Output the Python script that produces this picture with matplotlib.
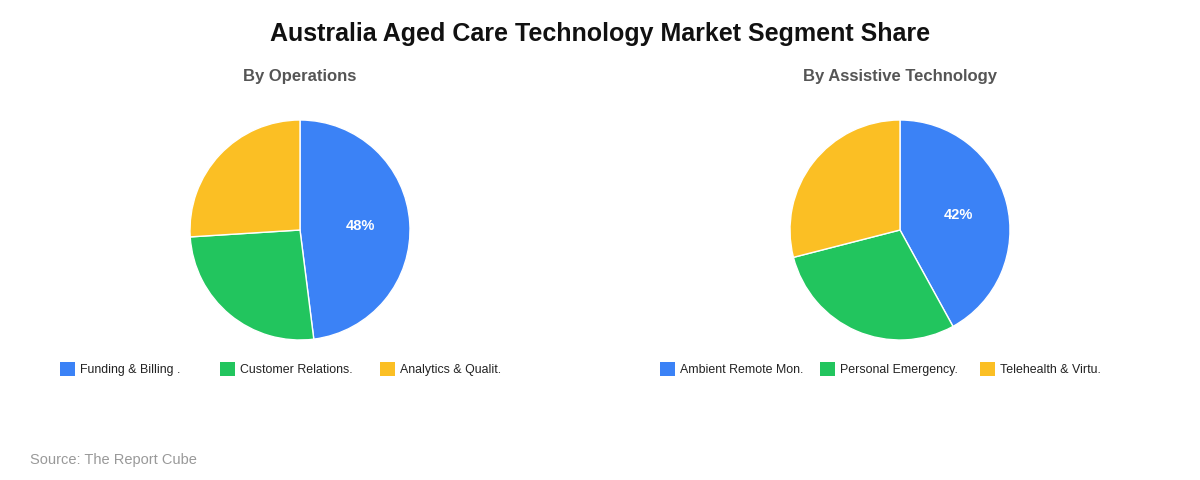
import matplotlib
matplotlib.use('Agg')
import matplotlib.pyplot as plt
from matplotlib.patches import Rectangle

plt.rcParams['font.family'] = ['Liberation Sans', 'DejaVu Sans']

title = "Australia Aged Care Technology Market Segment Share"
source = "Source: The Report Cube"

colors = ['#3B82F6', '#22C55E', '#FBBF24']

ops_title = "By Operations"
ops_labels = ["Funding & Billing .", "Customer Relations.", "Analytics & Qualit."]
ops_values = [48, 26, 26]

tech_title = "By Assistive Technology"
tech_labels = ["Ambient Remote Mon.", "Personal Emergency.", "Telehealth & Virtu."]
tech_values = [42, 29, 29]

W, H = 1200, 480
fig = plt.figure(figsize=(W / 100, H / 100), dpi=100)
fig.patch.set_facecolor('white')

fig.text(0.5, 1 - 34 / H, title, ha='center', va='center',
         fontsize=18, fontweight='bold', color='#111111')


def pct_label(p):
    # only the big slices get a label
    return f"{p:.0f}%" if p >= 30 else ""


def draw_pie(cx, sub, labels, values):
    r = 110
    ax = fig.add_axes([(cx - r) / W, (H - 230 - r) / H, 2 * r / W, 2 * r / H])
    wedges, texts, autotexts = ax.pie(
        values, colors=colors, startangle=90, counterclock=False,
        autopct=pct_label, pctdistance=0.55,
        wedgeprops=dict(edgecolor='white', linewidth=1))
    for t in autotexts:
        t.set_color('white')
        t.set_fontweight('bold')
        t.set_fontsize(10.5)
    ax.set_xlim(-1, 1)
    ax.set_ylim(-1, 1)
    ax.set_aspect('auto')
    ax.axis('off')

    fig.text(cx / W, 1 - 77 / H, sub, ha='center', va='center',
             fontsize=12, fontweight='bold', color='#555555')

    # legend row
    x0 = cx - 240
    for i, lab in enumerate(labels):
        x = x0 + 160 * i
        fig.patches.append(Rectangle((x / W, (H - 376) / H), 15 / W, 14 / H,
                                     transform=fig.transFigure,
                                     facecolor=colors[i], edgecolor='none'))
        fig.text(x + 20, H - 373 + 0.25, lab, ha='left', va='baseline',
                 transform=None, fontsize=8.9, color='#222222')


draw_pie(300, ops_title, ops_labels, ops_values)
draw_pie(900, tech_title, tech_labels, tech_values)

fig.text(30 / W, 1 - 460 / H, source, ha='left', va='center',
         fontsize=10.5, color='#999999')

plt.savefig('out.png', dpi=100, facecolor='white')
plt.close()
